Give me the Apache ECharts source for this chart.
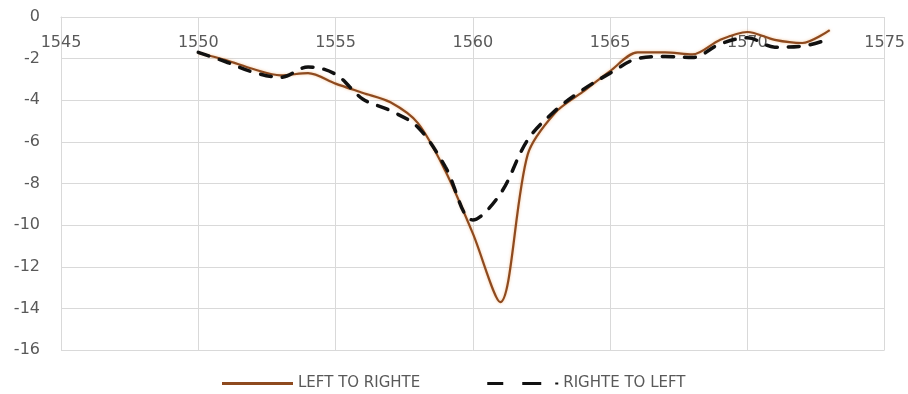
<!DOCTYPE html>
<html>
<head>
<meta charset="utf-8">
<script src="https://cdn.jsdelivr.net/npm/echarts@6/dist/echarts.min.js"></script>
<style>
  html, body { margin: 0; padding: 0; background: #ffffff; }
  #chart { width: 908px; height: 394px; }
</style>
</head>
<body>
<div id="chart"></div>
<script>
// Wavelength (nm) sample points shared by both sweeps
const wavelengths = [1550, 1551, 1552, 1553, 1554, 1555, 1556, 1557, 1558, 1559, 1560, 1561,
                     1562, 1563, 1564, 1565, 1566, 1567, 1568, 1569, 1570, 1571, 1572, 1573];

// Transmission (dB) for each sweep direction
const leftToRight = [-1.73, -2.07, -2.5, -2.8, -2.7, -3.2, -3.65, -4.1, -5.1, -7.4, -10.4, -13.7,
                     -6.6, -4.6, -3.6, -2.6, -1.7, -1.7, -1.8, -1.1, -0.72, -1.1, -1.25, -0.63];
const rightToLeft = [-1.7, -2.15, -2.65, -2.9, -2.4, -2.75, -3.95, -4.5, -5.3, -7.2, -9.75, -8.5,
                     -5.9, -4.5, -3.5, -2.7, -2.0, -1.9, -1.95, -1.3, -1.0, -1.45, -1.4, -1.05];

const seriesNames = ['LEFT TO RIGHTE', 'RIGHTE TO LEFT'];

const xTicks = { min: 1545, max: 1575, step: 5 };
const yTicks = { min: -16, max: 0, step: 2 };

const pairs = (xs, ys) => xs.map((x, i) => [x, ys[i]]);

const brown = '#8e4a1f';
const ink = '#111111';
const labelColor = '#595959';
const gridColor = '#d9d9d9';

// Legend keys: a solid stroke, and two dashes followed by a dot
const solidKey = 'path://M0,0H71V3H0Z';
const dashedKey = 'path://M0,0H16V3H0Z M35,0H54V3H35Z M68,0.5H71V2.5H68Z';

const chart = echarts.init(document.getElementById('chart'), null, { renderer: 'canvas' });

chart.setOption({
  animation: false,
  backgroundColor: '#ffffff',
  grid: { left: 61, right: 22, top: 17, bottom: 44, containLabel: false },
  xAxis: {
    type: 'value',
    position: 'top',
    min: xTicks.min,
    max: xTicks.max,
    interval: xTicks.step,
    axisLine: { show: true, lineStyle: { color: gridColor, width: 1 } },
    axisTick: { show: false },
    axisLabel: {
      inside: true,
      margin: 18,
      color: labelColor,
      fontFamily: 'DejaVu Sans',
      fontSize: 16,
      formatter: v => String(v)
    },
    splitLine: { show: true, lineStyle: { color: gridColor, width: 1 } }
  },
  yAxis: {
    type: 'value',
    min: yTicks.min,
    max: yTicks.max,
    interval: yTicks.step,
    axisLine: { show: true, lineStyle: { color: gridColor, width: 1 } },
    axisTick: { show: false },
    axisLabel: {
      margin: 21,
      color: labelColor,
      fontFamily: 'DejaVu Sans',
      fontSize: 16
    },
    splitLine: { show: true, lineStyle: { color: gridColor, width: 1 } }
  },
  legend: {
    left: 222,
    bottom: 3,
    padding: 0,
    itemWidth: 71,
    itemHeight: 3,
    itemGap: 67,
    textStyle: { color: labelColor, fontFamily: 'DejaVu Sans', fontSize: 15, lineHeight: 14 },
    data: [
      { name: seriesNames[0], icon: solidKey, itemStyle: { color: brown } },
      { name: seriesNames[1], icon: dashedKey, itemStyle: { color: ink } }
    ]
  },
  series: [
    {
      name: seriesNames[0],
      type: 'line',
      data: pairs(wavelengths, leftToRight),
      smooth: 0.3,
      symbol: 'none',
      z: 3,
      lineStyle: {
        color: brown,
        width: 2.2,
        shadowColor: 'rgba(235, 150, 70, 0.55)',
        shadowBlur: 3
      },
      itemStyle: { color: brown }
    },
    {
      name: seriesNames[1],
      type: 'line',
      data: pairs(wavelengths, rightToLeft),
      smooth: 0.35,
      symbol: 'none',
      z: 4,
      lineStyle: {
        color: ink,
        width: 3.5,
        type: [11, 11],
        cap: 'round'
      },
      itemStyle: { color: ink }
    }
  ]
});
</script>
</body>
</html>
